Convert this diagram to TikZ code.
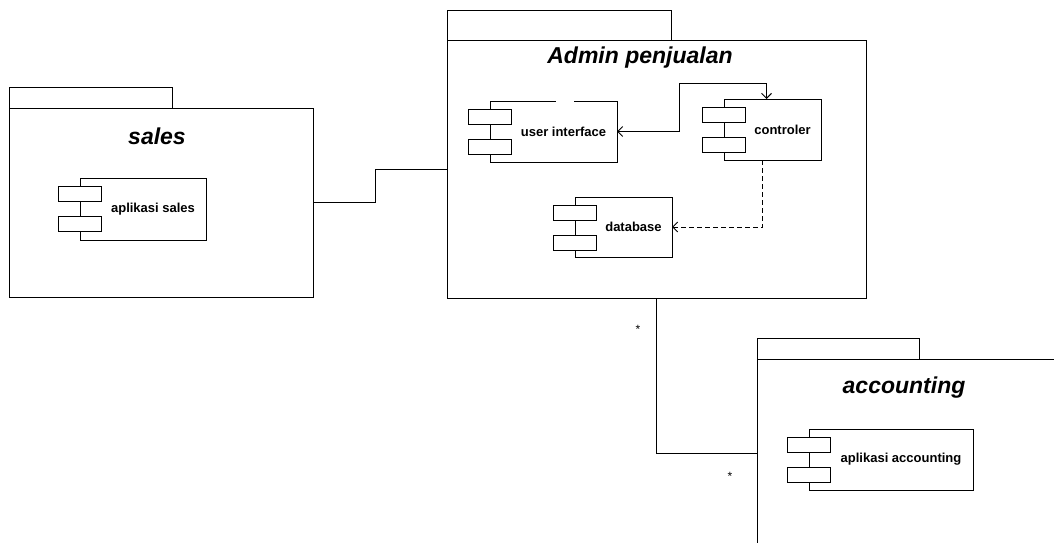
\documentclass[tikz,border=0pt]{standalone}
\usepackage{fontspec}
\setmainfont{Liberation Sans}
\usetikzlibrary{calc,arrows.meta}
\tikzset{
  line/.style={draw=black, line width=1pt},
  pkgbox/.style={line, fill=white, rectangle, inner sep=0pt, outer sep=0pt},
  pkgtitle/.style={font=\bfseries\itshape\fontsize{23}{27}\selectfont, anchor=base, inner sep=0pt},
  compbody/.style={line, fill=white, rectangle, inner sep=0pt, outer sep=0pt, font=\bfseries\fontsize{13}{15}\selectfont},
  compport/.style={line, fill=white, rectangle, inner sep=0pt, minimum width=43pt, minimum height=15pt},
  conn/.style={line},
  dep/.style={line, dash pattern=on 5pt off 3pt},
  mult/.style={font=\fontsize{12}{14}\selectfont, inner sep=0pt},
  >={Straight Barb[length=5pt,width=10pt]}
}
\newcommand\pkgrect[5]{%
  \node[pkgbox, minimum width={#4-#2}, minimum height={#5-#3}] (#1) at ({(#2+#4)/2},{(#3+#5)/2}) {};
}
\newcommand\umlcomp[6]{%
  \node[compbody, minimum width={#4-#2}, minimum height={#5-#3}] (#1) at ({(#2+#4)/2},{(#3+#5)/2}) {\hspace*{20pt}#6};
  \node[compport] (#1-a) at ($(#1.north west)+(0,16)$) {};
  \node[compport] (#1-b) at ($(#1.north west)+(0,46)$) {};
}
\begin{document}
\begin{tikzpicture}[x=1pt, y=-1pt]
\useasboundingbox (0,0) rectangle (1054,542);
\clip (0,0) rectangle (1054,542);

% packages
\pkgrect{salestab}{9}{87}{172}{108}
\pkgrect{sales}{9}{108}{313}{297}
\node[pkgtitle] (salestitle) at (157,144) {sales};

\pkgrect{admintab}{447}{10}{671}{40}
\pkgrect{admin}{447}{40}{866}{298}
\node[pkgtitle] (admintitle) at (640,63) {Admin penjualan};

\pkgrect{acctab}{757}{338}{919}{359}
\pkgrect{acc}{757}{359}{1110}{600}
\node[pkgtitle] (acctitle) at (904,393) {accounting};

% components
\umlcomp{apsales}{80}{178}{206}{240}{aplikasi sales}
\umlcomp{ui}{490}{101}{617}{162}{user interface}
\draw[white, line width=1.6pt] ($(ui.north west)+(66,0)$) -- ++(18,0);
\umlcomp{ctrl}{724}{99}{821}{160}{controler}
\umlcomp{db}{575}{197}{672}{257}{database}
\umlcomp{apacc}{809}{429}{973}{490}{aplikasi accounting}

% connectors
\draw[conn] (sales.east) -- ++(62,0) |- (admin.west);
\draw[conn] (admin.south) |- ($(acc.north west)+(0,94)$);
\node[mult] (m1) at (638,329) {*};
\node[mult] (m2) at (730,476) {*};

\draw[conn, <->] (ui.east) -- ++(62,0) |- ($(ctrl.north)+(-6,-16)$) -- ($(ctrl.north)+(-6,0)$);
\draw[dep, ->] ($(ctrl.south)+(-10,0)$) |- (db.east);
\end{tikzpicture}
\end{document}
